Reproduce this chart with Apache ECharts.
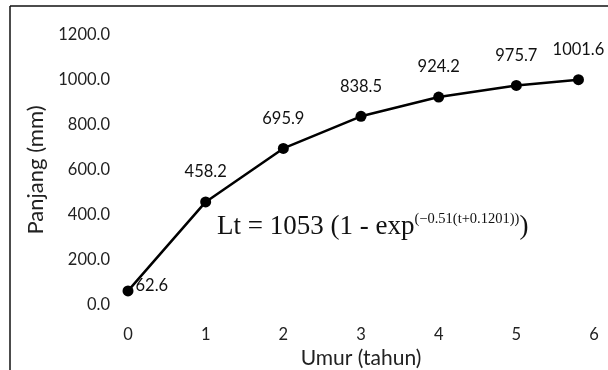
<!DOCTYPE html>
<html>
<head>
<meta charset="utf-8">
<script src="https://cdn.jsdelivr.net/npm/echarts@6/dist/echarts.min.js"></script>
<style>html,body{margin:0;padding:0;background:#fff}#c{width:608px;height:370px}</style>
</head>
<body>
<div id="c"></div>
<script>
const ages = [0, 1, 2, 3, 4, 5, 5.8];
const lengths = [62.6, 458.2, 695.9, 838.5, 924.2, 975.7, 1001.6];
const xTicks = [0, 1, 2, 3, 4, 5, 6];
const yTicks = [0, 200, 400, 600, 800, 1000, 1200];

const chart = echarts.init(document.getElementById('c'));
const FONT = 'Lato';
chart.setOption({
  animation: false,
  backgroundColor: '#fff',
  grid: { left: 128, right: 14, top: 35, bottom: 65, outerBoundsMode: 'none', containLabel: false },
  xAxis: {
    type: 'value', min: xTicks[0], max: xTicks[xTicks.length - 1], interval: 1,
    axisLine: { show: false }, axisTick: { show: false }, splitLine: { show: false },
    axisLabel: { color: '#222', fontFamily: FONT, fontSize: 16.5, margin: 21 },
    name: 'Umur (tahun)', nameLocation: 'middle', nameGap: 33,
    nameTextStyle: { color: '#222', fontFamily: FONT, fontSize: 21 }
  },
  yAxis: {
    type: 'value', min: yTicks[0], max: yTicks[yTicks.length - 1], interval: 200,
    axisLine: { show: false }, axisTick: { show: false }, splitLine: { show: false },
    axisLabel: { color: '#222', fontFamily: FONT, fontSize: 16.5, margin: 18,
      formatter: v => v.toFixed(1) },
    name: 'Panjang (mm)', nameLocation: 'middle', nameGap: 74,
    nameTextStyle: { color: '#222', fontFamily: FONT, fontSize: 22 }
  },
  series: [{
    type: 'line',
    data: ages.map((a, i) => i === 0
      ? { value: [a, lengths[i]], label: { position: 'right', distance: 2, offset: [0, -5] } }
      : [a, lengths[i]]),
    symbol: 'circle', symbolSize: 11,
    lineStyle: { color: '#000', width: 2.5 },
    itemStyle: { color: '#000' },
    label: {
      show: true, position: 'top', distance: 16, color: '#111',
      fontFamily: FONT, fontSize: 16.5,
      formatter: p => p.value[1].toFixed(1)
    },
    emphasis: { disabled: true }
  }],
  graphic: [
    { type: 'line', shape: { x1: 10, y1: 6, x2: 10, y2: 370 }, style: { stroke: '#111', lineWidth: 1.5 } },
    { type: 'line', shape: { x1: 10, y1: 6, x2: 608, y2: 6 }, style: { stroke: '#111', lineWidth: 1.5 } },
    {
      type: 'text', left: 217, top: 212,
      style: {
        text: '{m|Lt = 1053 (1 - exp}{s|(−0.51(t+0.1201))}{m|)}',
        rich: {
          m: { fontFamily: 'Liberation Serif', fontSize: 27, fill: '#111', verticalAlign: 'bottom' },
          s: { fontFamily: 'Liberation Serif', fontSize: 14.5, fill: '#111', verticalAlign: 'top', padding: [0, 0, 13, 0] }
        }
      }
    }
  ]
});
</script>
</body>
</html>
